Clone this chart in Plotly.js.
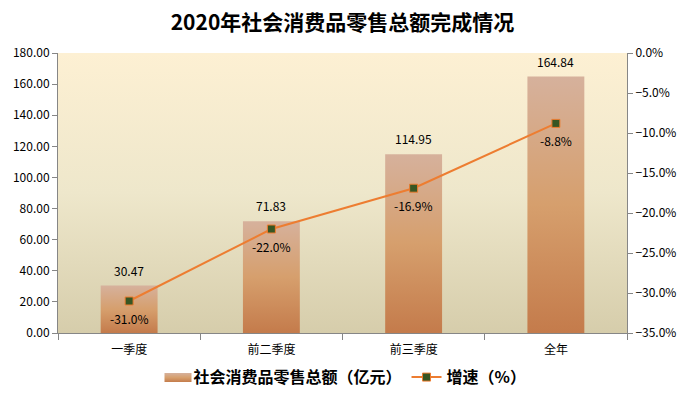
<!DOCTYPE html>
<html><head><meta charset="utf-8">
<script src="https://cdn.plot.ly/plotly-3.0.1.min.js"></script>
<style>html,body{margin:0;padding:0;background:#fff}#c{width:685px;height:400px}</style>
</head><body><div id="c"></div>
<script>
const categories = ['一季度', '前二季度', '前三季度', '全年'];
const salesValues = [30.47, 71.83, 114.95, 164.84];
const growthValues = [-31.0, -22.0, -16.9, -8.8];
const salesName = '社会消费品零售总额（亿元）';
const growthName = '增速（%）';
const titleText = '2020年社会消费品零售总额完成情况';

const bgSvg = '<svg xmlns="http://www.w3.org/2000/svg" width="10" height="100" preserveAspectRatio="none"><defs><linearGradient id="g" x1="0" y1="0" x2="0" y2="1"><stop offset="0" stop-color="#fdf0d3"/><stop offset="0.5" stop-color="#eee7cb"/><stop offset="1" stop-color="#d6cdab"/></linearGradient></defs><rect width="10" height="100" fill="url(#g)"/></svg>';
const bgSrc = 'data:image/svg+xml;base64,' + btoa(bgSvg);

const font = "'Microsoft YaHei','Noto Sans CJK SC','DejaVu Sans',sans-serif";

const traces = [
  {
    type: 'bar', x: categories, y: salesValues, name: salesName,
    width: 0.4,
    marker: {color: '#d49b70', line: {width: 0}},
    hoverinfo: 'skip'
  },
  {
    type: 'scatter', mode: 'lines+markers', x: categories, y: growthValues, yaxis: 'y2',
    name: growthName,
    line: {color: '#ed7d31', width: 2},
    marker: {symbol: 'square', size: 8, color: '#375623', line: {color: '#ed7d31', width: 1}},
    cliponaxis: false,
    hoverinfo: 'skip'
  }
];

const annotations = [];
categories.forEach((c, i) => {
  annotations.push({x: c, y: salesValues[i], xref: 'x', yref: 'y', text: salesValues[i].toFixed(2),
    showarrow: false, yanchor: 'bottom', yshift: 5, font: {size: 12, color: '#000', family: font}});
  annotations.push({x: c, y: growthValues[i], xref: 'x', yref: 'y2', text: growthValues[i].toFixed(1) + '%',
    showarrow: false, yanchor: 'top', yshift: -7, font: {size: 12, color: '#000', family: font}});
});

const layout = {
  width: 685, height: 400,
  margin: {l: 58, r: 58, t: 53, b: 67, autoexpand: false},
  paper_bgcolor: '#ffffff', plot_bgcolor: 'rgba(0,0,0,0)',
  font: {family: font, size: 12, color: '#000'},
  title: {text: '<b>' + titleText + '</b>', x: 0.5, xanchor: 'center', y: 0.943, yanchor: 'middle', font: {size: 21, color: '#000', family: font}},
  showlegend: true,
  legend: {orientation: 'h', x: 0.5, xanchor: 'center', y: 0.057, yref: 'container', yanchor: 'middle',
    font: {size: 16, family: font, weight: 'bold'}, traceorder: 'normal', itemwidth: 30},
  annotations: annotations,
  xaxis: {
    type: 'category', showgrid: false, showline: true, linecolor: '#868686', linewidth: 1,
    ticks: 'outside', tickson: 'boundaries', ticklen: 6, tickcolor: '#868686', ticklabelstandoff: 6,
    tickfont: {size: 12, color: '#000'}, zeroline: false
  },
  yaxis: {
    range: [0, 180], dtick: 20, tickformat: '.2f', showgrid: false, zeroline: false,
    showline: true, linecolor: '#868686', ticks: 'outside', ticklen: 5, tickcolor: '#868686',
    tickfont: {size: 12, color: '#000'}
  },
  yaxis2: {
    overlaying: 'y', side: 'right', range: [-35, 0], dtick: 5, tickformat: '.1f', ticksuffix: '%',
    showgrid: false, zeroline: false, showline: true, linecolor: '#868686', ticks: 'outside',
    ticklen: 5, tickcolor: '#868686', tickfont: {size: 12, color: '#000'}
  },
  images: [{source: bgSrc, xref: 'paper', yref: 'paper', x: 0, y: 1, sizex: 1, sizey: 1, sizing: 'stretch', layer: 'below', xanchor: 'left', yanchor: 'top'}]
};

function applyGradient(gd) {
  const ns = 'http://www.w3.org/2000/svg';
  gd.querySelectorAll('svg.main-svg').forEach((svg, k) => {
    let defs = svg.querySelector('defs');
    if (!defs) { defs = document.createElementNS(ns, 'defs'); svg.insertBefore(defs, svg.firstChild); }
    const lg = document.createElementNS(ns, 'linearGradient');
    lg.setAttribute('id', 'barGrad' + k);
    lg.setAttribute('x1', '0'); lg.setAttribute('y1', '0'); lg.setAttribute('x2', '0'); lg.setAttribute('y2', '1');
    [['0', '#d6b19c'], ['0.5', '#d69f6d'], ['1', '#c47b4b']].forEach(([o, c]) => {
      const s = document.createElementNS(ns, 'stop');
      s.setAttribute('offset', o); s.setAttribute('stop-color', c); lg.appendChild(s);
    });
    defs.appendChild(lg);
    svg.querySelectorAll('.barlayer .point path').forEach(p => { p.style.fill = 'url(#barGrad' + k + ')'; });
    const legTraces = svg.querySelectorAll('.legend .traces');
    if (legTraces.length) {
      legTraces[0].querySelectorAll('.legendpoints path').forEach(p => {
        p.setAttribute('d', 'M-9,-4h27v9h-27z');
        p.style.fill = 'url(#barGrad' + k + ')';
        p.style.stroke = 'none';
      });
    }
  });
}

Plotly.newPlot('c', traces, layout, {staticPlot: true, displayModeBar: false}).then(applyGradient);
</script></body></html>
